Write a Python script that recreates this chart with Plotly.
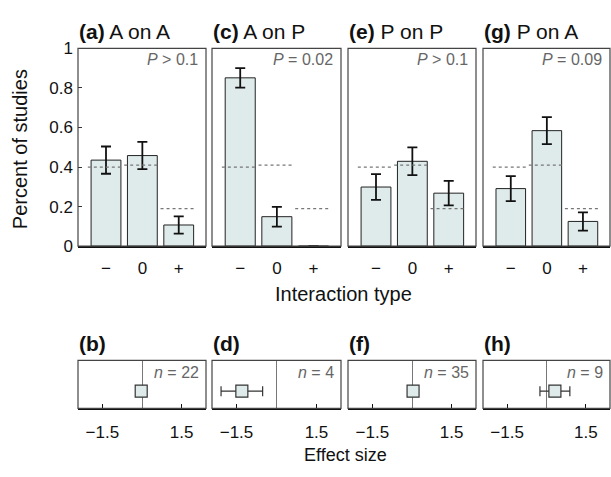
import plotly.graph_objects as go

W, H = 611, 477

# ---------------- data ----------------
panel_letters_top = ["(a)", "(c)", "(e)", "(g)"]
panel_names = ["A on A", "A on P", "P on P", "P on A"]
panel_letters_bot = ["(b)", "(d)", "(f)", "(h)"]
categories = ["−", "0", "+"]
p_labels = ["<i>P</i> > 0.1", "<i>P</i> = 0.02", "<i>P</i> > 0.1", "<i>P</i> = 0.09"]

pct_AonA = [0.435, 0.458, 0.107]
err_AonA = [0.069, 0.069, 0.044]
pct_AonP = [0.851, 0.149, 0.0]
err_AonP = [0.049, 0.050, 0.0]
pct_PonP = [0.299, 0.429, 0.268]
err_PonP = [0.065, 0.070, 0.062]
pct_PonA = [0.291, 0.584, 0.125]
err_PonA = [0.063, 0.068, 0.046]
expected = [0.40, 0.41, 0.19]

effect = [-0.03, -1.30, 0.04, 0.32]
effect_err = [0.08, 0.78, 0.08, 0.57]
n_labels = ["<i>n</i> = 22", "<i>n</i> = 4", "<i>n</i> = 35", "<i>n</i> = 9"]

y_ticks = [0, 0.2, 0.4, 0.6, 0.8, 1]
y_ticktext = ["0", "0.2", "0.4", "0.6", "0.8", "1"]
es_ticks = [-1.5, 1.5]
es_ticktext = ["−1.5", "1.5"]

pcts = [pct_AonA, pct_AonP, pct_PonP, pct_PonA]
errs = [err_AonA, err_AonP, err_PonP, err_PonA]

# ---------------- layout geometry (pixels) ----------------
xpix = [(78, 206), (212, 341), (348, 476), (483, 610)]
top_y = (41, 247)
bot_y = (366, 416)

FONT = "Liberation Sans, Arial, Helvetica, sans-serif"
FILL = "#deebea"
EDGE = "#222222"
BORDER = "#444444"

def px2x(p):
    return p / W

def px2y(p):
    return 1 - p / H

fig = go.Figure()
layout = dict(
    width=W, height=H,
    margin=dict(l=0, r=0, t=0, b=0),
    paper_bgcolor="white", plot_bgcolor="white",
    showlegend=False,
    font=dict(family=FONT, color="#111", size=16),
)
annotations = []
shapes = []

xvals = [0, 1, 2]
for i in range(4):
    xa = i * 2 + 1
    ya = i * 2 + 1
    xb = i * 2 + 2
    yb = i * 2 + 2
    xs = lambda k: "" if k == 1 else str(k)
    # ---- top bar panel ----
    fig.add_trace(go.Bar(
        x=xvals, y=pcts[i], width=0.82,
        marker=dict(color=FILL, line=dict(color=EDGE, width=1)),
        error_y=dict(type="data", array=errs[i], visible=True,
                     color="#111", thickness=1.8, width=5),
        xaxis="x" + xs(xa), yaxis="y" + xs(ya),
    ))
    for j in range(3):
        fig.add_trace(go.Scatter(
            x=[xvals[j] - 0.5, xvals[j] + 0.45], y=[expected[j], expected[j]],
            mode="lines", line=dict(color="#777", width=1.2, dash="3px,3px"),
            xaxis="x" + xs(xa), yaxis="y" + xs(ya), hoverinfo="skip",
        ))
    layout["xaxis" + xs(xa)] = dict(
        domain=[px2x(xpix[i][0]), px2x(xpix[i][1])],
        range=[-0.77, 2.75], anchor="y" + xs(ya),
        tickvals=xvals, ticktext=categories, ticks="",
        showline=True, linecolor="#111", linewidth=1.5,
        showgrid=False, zeroline=False,
        tickfont=dict(size=17, family=FONT), ticklabelstandoff=6,
        fixedrange=True,
    )
    layout["yaxis" + xs(ya)] = dict(
        domain=[px2y(top_y[1]), px2y(top_y[0])],
        range=[0, 1], anchor="x" + xs(xa),
        tickvals=y_ticks, ticktext=y_ticktext,
        showticklabels=(i == 0), ticks="inside" if i == 0 else "",
        ticklen=4, tickcolor="#333",
        showline=False, showgrid=False, zeroline=False,
        tickfont=dict(size=17, family=FONT), ticklabelstandoff=4,
        fixedrange=True,
    )
    shapes.append(dict(type="rect", xref="x" + xs(xa) + " domain", yref="y" + xs(ya) + " domain",
                       x0=0, x1=1, y0=0, y1=1, line=dict(color=BORDER, width=1.2), layer="above"))
    annotations.append(dict(
        text="<b>" + panel_letters_top[i] + "</b> " + panel_names[i],
        xref="paper", yref="paper", x=px2x(xpix[i][0] - 1), y=px2y(23),
        xanchor="left", yanchor="middle", showarrow=False,
        font=dict(size=21, family=FONT, color="#111"),
    ))
    annotations.append(dict(
        text=p_labels[i], xref="paper", yref="paper",
        x=px2x(xpix[i][1] - 6), y=px2y(53), xanchor="right", yanchor="middle",
        showarrow=False, font=dict(size=16, family=FONT, color="#666"),
    ))

    # ---- bottom effect-size panel ----
    fig.add_trace(go.Scatter(
        x=[effect[i]], y=[0], mode="markers",
        marker=dict(symbol="square", size=12, color=FILL, line=dict(color="#333", width=1.2)),
        error_x=dict(type="data", array=[effect_err[i]], visible=True,
                     color="#333", thickness=1.2, width=5),
        xaxis="x" + str(xb), yaxis="y" + str(yb),
    ))
    layout["xaxis" + str(xb)] = dict(
        domain=[px2x(xpix[i][0]), px2x(xpix[i][1])],
        range=[-2.42, 2.42], anchor="y" + str(yb),
        tickvals=es_ticks, ticktext=es_ticktext, ticks="inside", ticklen=4,
        tickcolor="#111",
        showline=True, linecolor="#111", linewidth=1.5,
        showgrid=False, zeroline=True, zerolinecolor="#777", zerolinewidth=1,
        tickfont=dict(size=17, family=FONT), ticklabelstandoff=8,
        fixedrange=True,
    )
    layout["yaxis" + str(yb)] = dict(
        domain=[px2y(bot_y[1]), px2y(bot_y[0])],
        range=[-0.72, 1.28], anchor="x" + str(xb),
        showticklabels=False, ticks="", showline=False, showgrid=False, zeroline=False,
        fixedrange=True,
    )
    shapes.append(dict(type="rect", xref="x" + str(xb) + " domain", yref="y" + str(yb) + " domain",
                       x0=0, x1=1, y0=0, y1=1, line=dict(color=BORDER, width=1.2), layer="above"))
    annotations.append(dict(
        text="<b>" + panel_letters_bot[i] + "</b>",
        xref="paper", yref="paper", x=px2x(xpix[i][0] - 1), y=px2y(348),
        xanchor="left", yanchor="middle", showarrow=False,
        font=dict(size=21, family=FONT, color="#111"),
    ))
    annotations.append(dict(
        text=n_labels[i], xref="paper", yref="paper",
        x=px2x(xpix[i][1] - 5), y=px2y(379), xanchor="right", yanchor="middle",
        showarrow=False, font=dict(size=16, family=FONT, color="#666"),
    ))

# axis titles
annotations.append(dict(text="Percent of studies", xref="paper", yref="paper",
                        x=px2x(20), y=px2y(146), textangle=-90,
                        xanchor="center", yanchor="middle", showarrow=False,
                        font=dict(size=20, family=FONT, color="#111")))
annotations.append(dict(text="Interaction type", xref="paper", yref="paper",
                        x=px2x(343), y=px2y(297), xanchor="center", yanchor="middle",
                        showarrow=False, font=dict(size=20, family=FONT, color="#111")))
annotations.append(dict(text="Effect size", xref="paper", yref="paper",
                        x=px2x(345), y=px2y(465), xanchor="center", yanchor="middle",
                        showarrow=False, font=dict(size=18, family=FONT, color="#111")))

layout["annotations"] = annotations
layout["shapes"] = shapes
fig.update_layout(**layout)
fig.write_html(
    "out.html",
    config={"displayModeBar": False, "staticPlot": True},
    post_script="document.body.style.margin='0';document.body.style.overflow='hidden';",
)
